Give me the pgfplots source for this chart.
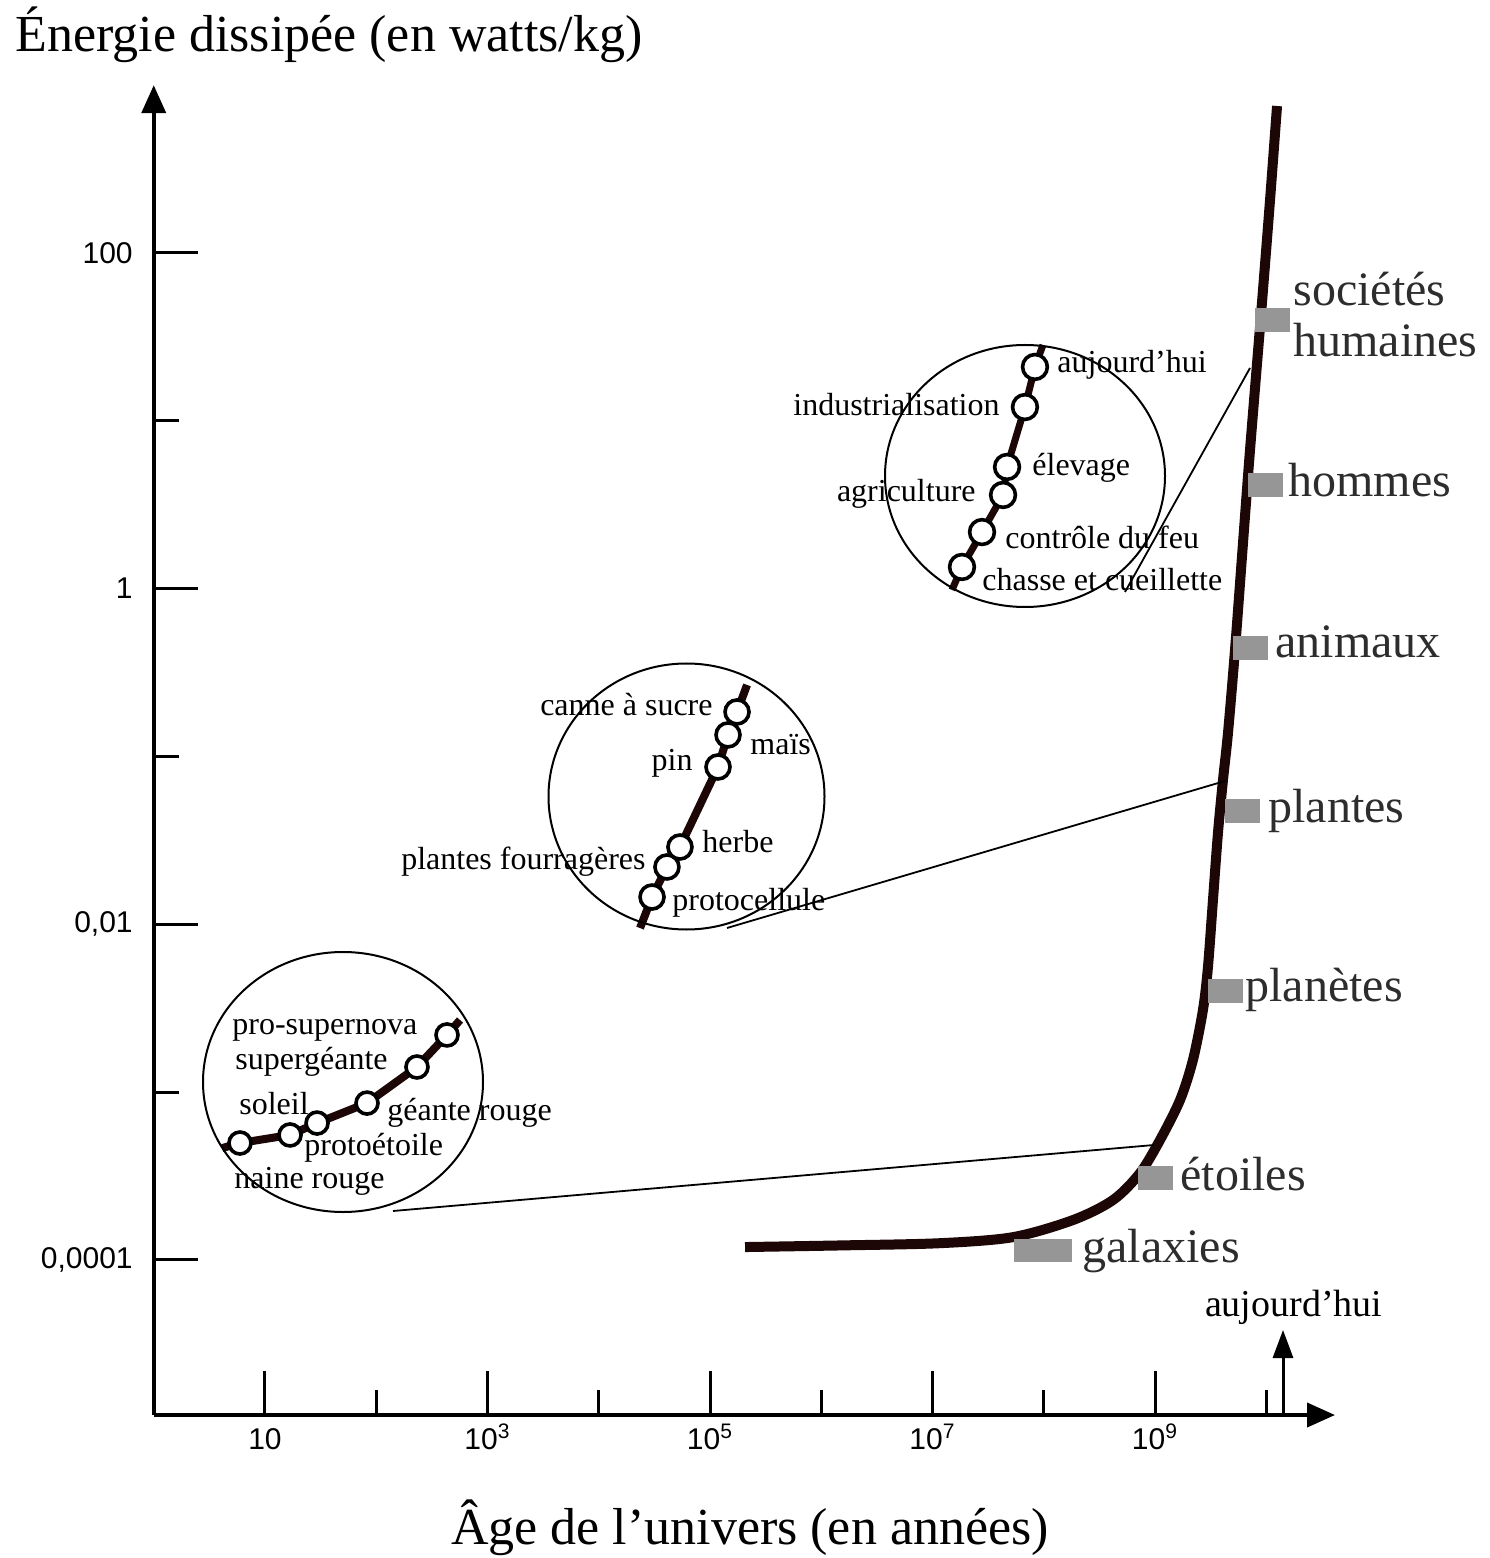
\documentclass[border=0pt]{standalone}
\usepackage{fontspec}
\setmainfont{Liberation Serif}
\newfontfamily\tickfont{Liberation Sans}
\usepackage{pgfplots}
\pgfplotsset{compat=1.18}
\usetikzlibrary{arrows.meta}
\definecolor{curve}{RGB}{28,6,6}
\definecolor{box}{RGB}{150,150,150}
\definecolor{lab}{RGB}{45,45,45}

% axis coordinates are log10 of the values
\pgfplotstableread{
x y
5.315 -3.924
6.200 -3.914
7.067 -3.901
7.723 -3.865
8.263 -3.763
8.622 -3.644
8.865 -3.483
9.045 -3.286
9.225 -3.048
9.341 -2.809
9.431 -2.511
9.476 -2.255
9.521 -1.856
9.566 -1.456
9.611 -1.141
9.656 -0.861
9.719 -0.366
9.791 0.272
9.854 0.826
9.962 1.708
10.034 2.316
10.097 2.876
}\maincurve

\begin{document}
\begin{tikzpicture}
\useasboundingbox (-76.875pt,294.3pt) rectangle (667.625pt,-484.7pt);
\begin{axis}[
  at={(0,0)}, anchor=origin,
  x=55.625pt, y=83.9pt,
  xmin=0, xmax=10.618, ymin=-4.925, ymax=3.0,
  axis lines=left,
  axis line style={line width=2pt, -{Triangle[length=14pt,width=12pt]}},
  clip=false,
  xtick={1,3,5,7,9},
  xticklabels={10,10\textsuperscript{3},10\textsuperscript{5},10\textsuperscript{7},10\textsuperscript{9}},
  minor xtick={2,4,6,8,10},
  ytick={-4,-2,0,2},
  yticklabels={{0,0001},{0,01},{1},{100}},
  minor ytick={-3,-1,1},
  tick align=inside,
  major tick length=22pt, minor tick length=12.5pt,
  tick style={line width=1.5pt, black},
  tick label style={font=\tickfont\fontsize{15}{15}\selectfont},
  yticklabel style={xshift=-7pt},
  xticklabel style={anchor=base, yshift=-17pt},
]
\addplot[curve, line width=5pt, smooth, tension=0.5] table {\maincurve};

% stars
\addplot[curve, line width=4pt] coordinates {(0.616,-3.334) (0.775,-3.304) (1.225,-3.256) (1.468,-3.185) (1.917,-3.066) (2.366,-2.851) (2.636,-2.660) (2.753,-2.571)};
\addplot[only marks, mark=*, mark size=5.5pt, mark options={fill=white, draw=black, line width=1.8pt}]
  coordinates {(0.775,-3.304) (1.225,-3.256) (1.468,-3.185) (1.917,-3.066) (2.366,-2.851) (2.636,-2.660)};

% plants
\addplot[curve, line width=4pt] coordinates {(4.371,-2.023) (4.479,-1.838) (4.613,-1.659) (4.730,-1.540) (5.072,-1.063) (5.162,-0.872) (5.243,-0.735) (5.333,-0.574)};
\addplot[only marks, mark=*, mark size=6pt, mark options={fill=white, draw=black, line width=1.8pt}]
  coordinates {(4.479,-1.838) (4.613,-1.659) (4.730,-1.540) (5.072,-1.063) (5.162,-0.872) (5.243,-0.735)};

% human societies
\addplot[curve, line width=3.5pt] coordinates {(7.175,-0.008) (7.265,0.129) (7.445,0.337) (7.634,0.558) (7.670,0.725) (7.831,1.082) (7.921,1.321) (7.993,1.452)};
\addplot[only marks, mark=*, mark size=6.2pt, mark options={fill=white, draw=black, line width=1.8pt}]
  coordinates {(7.265,0.129) (7.445,0.337) (7.634,0.558) (7.670,0.725) (7.831,1.082) (7.921,1.321)};

% grey markers on the main curve
\addplot[only marks, mark=square*, mark size=5.75pt, mark options={box, draw=none, xscale=1.48}]
  coordinates {(9.004,-3.513) (9.629,-2.398) (9.782,-1.325) (9.854,-0.354) (9.989,0.617) (10.052,1.601)};
\addplot[only marks, mark=square*, mark size=5.5pt, mark options={box, draw=none, xscale=2.59}]
  coordinates {(7.989,-3.942)};
\end{axis}

\begin{scope}[shift={(-76.875pt,294.3pt)}, x=0.5pt, y=-0.5pt]
\node[anchor=base, font=\fontsize{26}{26}\selectfont] at (329,52) {Énergie dissipée (en watts/kg)};
\node[anchor=base, font=\fontsize{26}{26}\selectfont] at (750,1544) {Âge de l’univers (en années)};

\draw[line width=1.5pt, -{Triangle[length=14pt,width=10pt]}] (1283,1413) -- (1283,1330);
\node[anchor=base west, font=\fontsize{19}{19}\selectfont] at (1198,1316) {aujourd’hui};

\draw[line width=1pt] (343,1082) ellipse [x radius=70pt, y radius=65pt];
\draw[line width=1pt] (686.5,796.5) ellipse [x radius=69pt, y radius=66.5pt];
\draw[line width=1pt] (1025,476) ellipse [x radius=70pt, y radius=65.5pt];
\draw[line width=0.9pt] (393,1211) -- (1154,1145);
\draw[line width=0.9pt] (727,928) -- (1225,781);
\draw[line width=0.9pt] (1125,592) -- (1250,368);

\begin{scope}[every node/.style={font=\fontsize{16}{16}\selectfont, inner sep=1pt}]
\node[anchor=west] at (230,1030) {pro-supernova};
\node[anchor=west] at (233,1062) {supergéante};
\node[anchor=west] at (237,1104) {soleil};
\node[anchor=west] at (385,1113) {géante rouge};
\node[anchor=west] at (302,1148) {protoétoile};
\node[anchor=west] at (232,1181) {naine rouge};

\node[anchor=east] at (715,705) {canne à sucre};
\node[anchor=west] at (748,745) {maïs};
\node[anchor=east] at (695,763) {pin};
\node[anchor=west] at (700,842) {herbe};
\node[anchor=east] at (648,862) {plantes fourragères};
\node[anchor=west] at (670,903) {protocellule};

\node[anchor=west] at (1055,365) {aujourd’hui};
\node[anchor=east] at (1002,405) {industrialisation};
\node[anchor=west] at (1030,468) {élevage};
\node[anchor=east] at (978,494) {agriculture};
\node[anchor=west] at (1003,537) {contrôle du feu};
\node[anchor=west] at (980,580) {chasse et cueillette};
\end{scope}

\begin{scope}[every node/.style={font=\fontsize{24}{24}\selectfont, text=lab, anchor=base west, inner sep=0pt}]
\node at (1293,306) {sociétés};
\node at (1293,357) {humaines};
\node at (1288,497) {hommes};
\node at (1275,658) {animaux};
\node at (1268,822) {plantes};
\node at (1245,1001) {planètes};
\node at (1180,1190) {étoiles};
\node at (1082,1262) {galaxies};
\end{scope}
\end{scope}
\end{tikzpicture}
\end{document}
